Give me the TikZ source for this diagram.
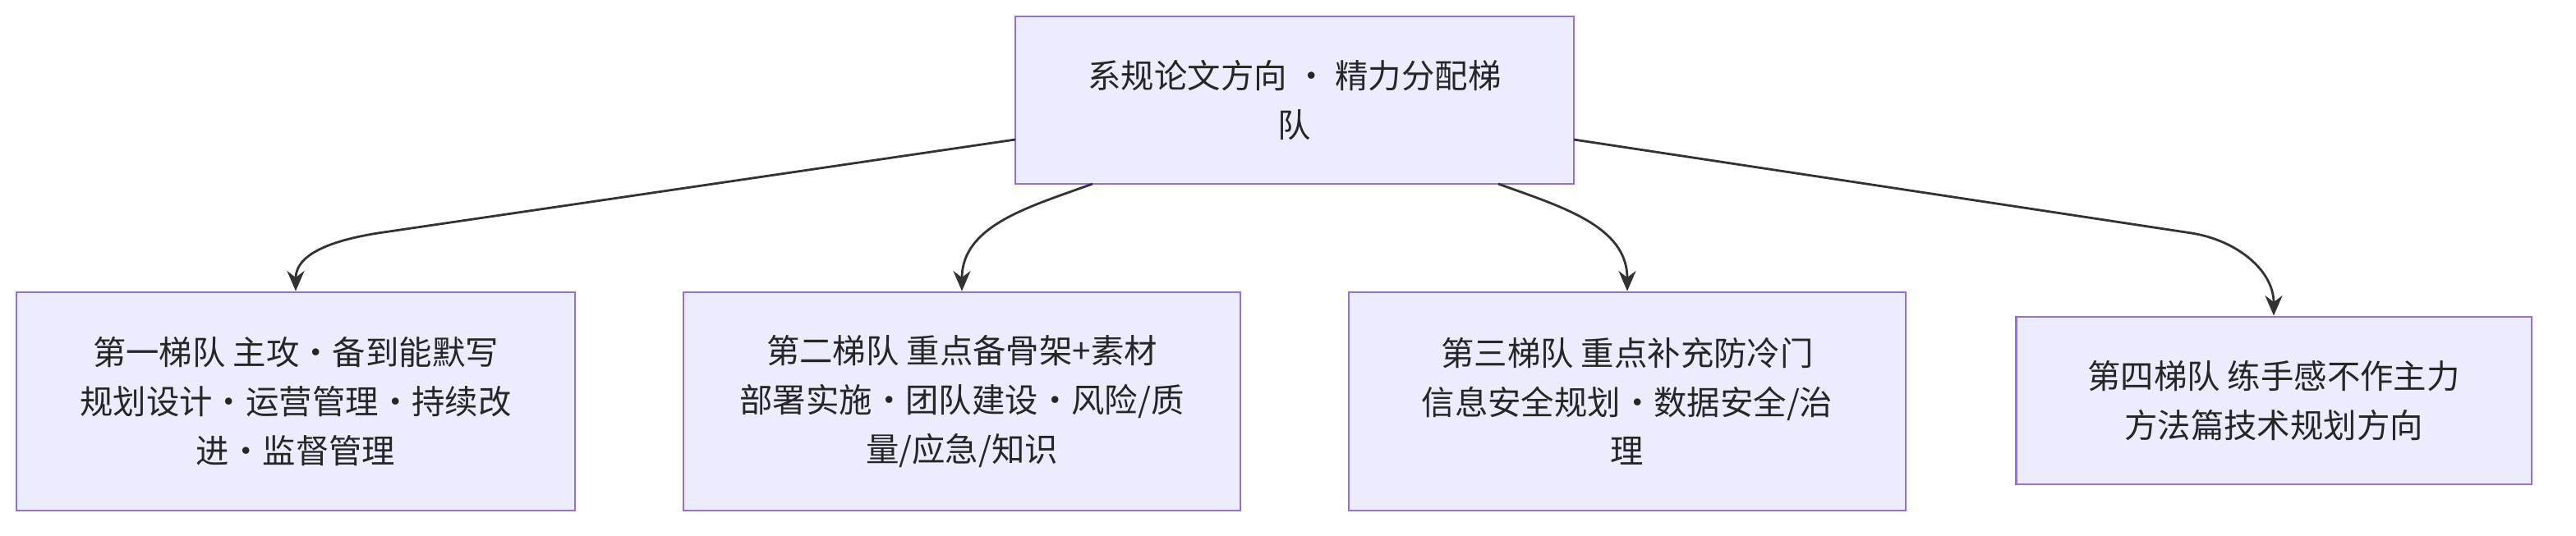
\documentclass[tikz,border=0pt]{standalone}
\usepackage{fontspec}
\setmainfont{Noto Sans CJK SC}
\usetikzlibrary{arrows.meta}
\definecolor{boxfill}{HTML}{ECECFF}
\definecolor{boxline}{HTML}{9370DB}
\definecolor{linkcol}{HTML}{333333}
\tikzset{
  tier/.style={rectangle,fill=boxfill,draw=boxline,line width=0.8pt,align=center,
    font=\fontsize{11.5pt}{17pt}\selectfont,text=black!85,inner sep=0pt},
  link/.style={draw=linkcol,line width=0.8pt,-{Stealth[length=7pt,width=6pt]}}
}
\begin{document}
\begin{tikzpicture}[x=.02cm,y=-.02cm]
  \useasboundingbox (0,0) rectangle (1568,326);

  % top
  \node[tier,minimum width=6.8cm,minimum height=2.04cm] (top) at (788,61) {系规论文方向 · 精力分配梯\\队};

  % tiers
  \node[tier,minimum width=6.8cm,minimum height=2.66cm] (t1) at (180,244.5) {第一梯队 主攻·备到能默写\\规划设计·运营管理·持续改\\进·监督管理};
  \node[tier,minimum width=6.78cm,minimum height=2.66cm] (t2) at (585.5,244.5) {第二梯队 重点备骨架+素材\\部署实施·团队建设·风险/质\\量/应急/知识};
  \node[tier,minimum width=6.78cm,minimum height=2.66cm] (t3) at (990.5,244.5) {第三梯队 重点补充防冷门\\信息安全规划·数据安全/治\\理};
  \node[tier,minimum width=6.28cm,minimum height=2.04cm] (t4) at (1384,244) {第四梯队 练手感不作主力\\方法篇技术规划方向};

  % bends
  \coordinate (s1) at (618,85);
  \coordinate (k1) at (230,142);
  \coordinate (s2) at (665,112);
  \coordinate (s3) at (912,112);
  \coordinate (s4) at (958,85);
  \coordinate (k4) at (1334,142);

  % links
  \draw[link] (s1) -- (k1) to[out=189,in=90] (t1.north);
  \draw[link] (s2) to[out=200,in=90] (t2.north);
  \draw[link] (s3) to[out=-20,in=90] (t3.north);
  \draw[link] (s4) -- (k4) to[out=-9,in=90] (t4.north);
\end{tikzpicture}
\end{document}
